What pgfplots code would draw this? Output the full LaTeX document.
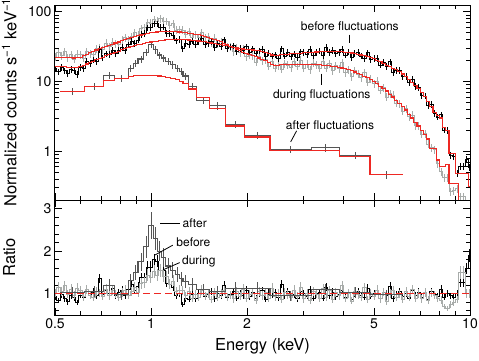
\documentclass[border=0pt]{standalone}
\usepackage{fontspec}
\setmainfont{TeX Gyre Heros}
\usepackage{pgfplots}
\usepackage{pgfplotstable}
\pgfplotsset{compat=1.18}

\definecolor{lgray}{RGB}{168,172,170}
\definecolor{dgray}{RGB}{85,85,85}
\definecolor{mred}{RGB}{238,40,35}

% E, before model, before ratio, during model, during ratio
\pgfplotstableread{
E mb rb md rd
0.500 16.4 0.93 22.4 1.02
0.512 16.4 0.84 22.4 1.16
0.524 16.3 0.98 22.4 1.05
0.536 16.2 0.88 22.4 1.19
0.548 16.0 0.81 22.2 0.99
0.561 15.8 0.95 21.9 1.11
0.574 15.8 0.91 21.7 0.97
0.587 16.0 0.79 21.8 1.13
0.601 16.4 0.97 22.4 1.08
0.615 17.0 0.91 23.4 0.93
0.629 17.8 1.10 24.5 1.10
0.644 18.8 0.97 25.7 0.97
0.659 19.6 1.04 27.0 0.91
0.675 20.4 0.95 28.3 1.05
0.690 21.4 1.35 29.5 1.02
0.706 22.4 0.98 30.7 0.94
0.723 23.3 1.07 32.0 1.11
0.740 24.2 1.02 33.1 0.96
0.757 25.2 1.12 34.3 1.07
0.774 26.2 0.96 35.6 0.99
0.792 27.3 1.03 36.9 0.92
0.811 28.4 1.09 38.2 1.03
0.830 29.5 0.95 39.5 1.09
0.849 30.5 1.10 40.9 0.97
0.869 31.5 1.21 42.3 1.05
0.889 32.5 1.08 43.7 1.15
0.910 33.5 1.18 45.1 1.03
0.931 34.4 1.38 46.4 1.24
0.953 35.3 1.38 47.6 1.26
0.975 36.1 1.63 48.7 1.44
0.998 36.8 1.63 49.7 1.38
1.021 37.4 1.80 50.6 1.53
1.045 38.0 1.77 51.3 1.43
1.069 38.6 1.55 51.8 1.55
1.094 39.1 1.55 52.1 1.41
1.119 39.5 1.25 52.2 1.40
1.145 39.8 1.23 52.2 1.23
1.172 40.0 1.16 52.0 1.30
1.199 40.0 0.96 51.7 1.06
1.227 40.0 1.01 51.3 1.09
1.256 39.9 0.74 50.8 1.08
1.285 39.7 0.88 50.2 0.95
1.315 39.4 0.87 49.5 1.05
1.346 39.0 0.98 48.7 0.89
1.377 38.6 0.88 47.8 0.98
1.409 38.1 1.00 46.8 0.92
1.442 37.6 1.11 45.8 1.09
1.476 37.0 0.93 44.6 0.95
1.510 36.3 0.98 43.3 1.01
1.545 35.6 1.06 41.9 0.87
1.581 35.0 0.88 40.4 1.04
1.618 34.3 1.02 38.8 0.91
1.656 33.6 0.95 37.2 1.00
1.694 33.0 1.20 35.5 1.08
1.734 32.4 0.92 33.8 0.93
1.774 31.8 0.99 32.0 0.97
1.815 31.0 1.05 30.4 0.88
1.858 30.2 0.89 28.9 1.05
1.901 29.5 1.01 27.5 0.94
1.945 29.2 0.96 26.3 1.11
1.991 28.9 1.09 25.2 0.90
2.037 28.6 0.93 24.2 0.99
2.084 28.3 1.04 23.3 1.02
2.133 28.0 0.90 22.5 0.85
2.183 27.6 1.00 21.7 1.06
2.233 27.0 1.07 20.8 0.96
2.285 26.2 0.87 19.9 1.03
2.339 25.2 1.02 18.8 0.89
2.393 24.0 0.97 17.4 1.13
2.449 23.5 1.03 16.8 0.93
2.506 23.8 0.91 17.0 1.00
2.564 24.2 1.22 17.3 0.87
2.624 24.5 0.95 17.4 1.04
2.685 24.7 1.06 17.5 0.98
2.748 24.9 0.92 17.5 0.91
2.812 25.1 0.99 17.6 1.09
2.877 25.3 0.88 17.6 0.94
2.944 25.5 1.05 17.6 1.16
3.013 25.7 1.01 17.6 0.88
3.083 25.9 0.94 17.6 1.01
3.155 26.1 1.10 17.5 0.84
3.228 26.3 0.90 17.5 1.05
3.303 26.5 1.00 17.4 0.99
3.380 26.7 1.03 17.3 0.90
3.459 26.8 0.89 17.2 1.12
3.540 26.9 1.16 17.0 0.92
3.622 27.0 0.96 16.8 1.07
3.707 27.0 1.04 16.6 0.86
3.793 27.0 0.93 16.3 1.03
3.881 26.9 0.98 16.0 0.95
3.972 26.7 1.08 15.6 1.19
4.064 26.4 0.91 15.2 0.89
4.159 26.0 1.02 14.7 1.00
4.256 25.6 0.86 14.2 0.83
4.355 25.2 1.01 13.7 1.06
4.456 24.6 1.06 13.1 0.98
4.560 24.0 0.97 12.5 0.91
4.666 23.4 0.92 11.9 1.14
4.775 22.8 1.13 11.3 0.87
4.886 22.2 0.94 10.7 1.02
5.000 21.3 1.00 10.0 0.94
5.117 20.3 1.07 9.3 1.09
5.236 19.2 0.90 8.6 0.88
5.358 18.2 1.03 7.9 1.04
5.483 17.2 0.95 7.3 0.82
5.610 16.3 1.18 6.6 1.01
5.741 15.5 0.88 6.0 1.07
5.875 14.7 0.99 5.4 0.91
6.012 13.9 1.05 4.9 0.99
6.152 12.8 0.93 4.4 0.86
6.295 11.8 1.01 3.9 1.05
6.442 10.8 0.89 3.4 0.93
6.592 9.8 1.09 3.0 1.10
6.745 8.8 0.96 2.6 0.90
6.902 7.9 1.04 2.3 1.00
7.063 7.0 0.91 2.0 0.88
7.228 6.1 1.02 1.75 1.03
7.396 5.2 0.87 1.5 0.85
7.568 4.4 1.06 1.1 1.02
7.744 3.6 0.98 1.1 0.97
7.925 3.3 0.94 0.75 0.89
8.109 3.0 1.11 0.6 0.85
8.298 2.2 0.92 0.6 0.70
8.492 2.0 1.00 0.65 0.65
8.690 0.93 0.95 0.35 0.75
8.892 0.93 0.92 0.34 0.80
9.099 0.48 1.00 0.34 0.86
9.311 0.48 1.26 0.15 1.50
9.528 0.48 1.26 0.15 1.50
9.750 0.48 1.60 0.15 1.00
9.977 0.31 1.90 0.15 1.00
}\spectab

% after fluctuations: bin left edge, bin centre, data, model, ratio
\pgfplotstableread{
lo xc v m r
0.52 0.568 7.2 7.1 1.03
0.62 0.664 8.5 8.4 1.05
0.71 0.739 12.3 10.3 1.20
0.77 0.809 11.0 11.2 0.98
0.85 0.865 15.5 11.9 1.30
0.88 0.895 18.3 12.2 1.50
0.91 0.930 21.0 12.3 1.75
0.95 0.965 26.0 12.3 2.10
0.98 1.000 34.0 12.3 2.60
1.02 1.035 28.5 12.2 2.30
1.05 1.065 24.0 12.0 2.00
1.08 1.095 21.7 11.8 1.85
1.11 1.130 19.3 11.5 1.65
1.15 1.170 17.3 11.1 1.55
1.19 1.210 15.5 10.6 1.45
1.23 1.245 13.9 10.1 1.35
1.26 1.285 12.0 9.5 1.28
1.31 1.349 8.6 7.8 1.22
1.39 1.458 5.4 5.9 1.10
1.53 1.618 4.5 4.1 1.05
1.71 1.835 2.45 2.3 1.13
1.97 2.156 1.70 1.6 1.13
2.36 2.744 1.06 1.03 0.95
3.19 3.532 1.12 1.03 1.09
3.91 4.359 0.875 0.83 1.03
4.86 5.480 0.46 0.46 0.98
6.18 nan 0.46 0.46 0.98
}\aftertab

\pgfplotsset{
  /pgfplots/myaxis/.style={
    scale only axis, width=415pt,
    xmin=0.5, xmax=10,
    xtick={0.5,1,2,5,10},
    minor xtick={0.6,0.7,0.8,0.9,3,4,6,7,8,9},
    major tick length=7pt, minor tick length=4pt,
    tick style={line width=0.8pt, black},
    axis line style={line width=1pt},
    tick label style={font=\fontsize{14}{16}\selectfont},
    label style={font=\fontsize{16.5}{19}\selectfont},
    ylabel style={at={(axis description cs:-0.11,0.5)}, anchor=center},
    xlabel style={at={(axis description cs:0.5,-0.27)}, anchor=center},
  },
  /pgfplots/mydat/.style={const plot mark mid, line width=0.7pt, mark=none,
    error bars/y dir=both, error bars/y fixed relative=#1,
    error bars/error mark=none,
    error bars/error bar style={line width=0.7pt}},
  /pgfplots/mymdl/.style={mred, line width=1.1pt, const plot mark mid},
  /pgfplots/myaft/.style={dgray, line width=1.1pt, const plot},
  /pgfplots/mycross/.style={draw=none, mark=none,
    error bars/y dir=both, error bars/y fixed relative=0.12,
    error bars/error mark=none,
    error bars/error bar style={draw=dgray, line width=0.9pt}},
}

\begin{document}
\begin{tikzpicture}
% upper panel: data
\begin{axis}[xmode=log, ymode=log, myaxis, at={(0,0)}, anchor=south west, height=195pt,
  ymin=0.2, ymax=125,
  ytick={1,10,100}, yticklabels={1,10,100},
  minor ytick={0.2,0.3,0.4,0.5,0.6,0.7,0.8,0.9,2,3,4,5,6,7,8,9,20,30,40,50,60,70,80,90},
  xticklabels={},
  ylabel={Normalized counts s\textsuperscript{−1} keV\textsuperscript{−1}}]
\addplot[lgray, mydat=0.13] table[x=E, y expr=\thisrow{md}*\thisrow{rd}] {\spectab};
\addplot[black, mydat=0.11] table[x=E, y expr=\thisrow{mb}*\thisrow{rb}] {\spectab};
\addplot[myaft] table[x=lo, y=v] {\aftertab};
\addplot[mycross] table[x=xc, y=v] {\aftertab};
\node[font=\fontsize{12}{14}\selectfont] at (axis cs:4.2,63) {before fluctuations};
\draw[line width=0.8pt] (axis cs:4.2,47) -- (axis cs:4.2,35.6);
\node[font=\fontsize{12}{14}\selectfont] at (axis cs:3.43,6.4) {during fluctuations};
\draw[line width=0.8pt] (axis cs:3.43,13) -- (axis cs:3.43,9);
\node[font=\fontsize{12}{14}\selectfont] at (axis cs:3.64,2.37) {after fluctuations};
\draw[line width=0.8pt] (axis cs:2.86,1.96) -- (axis cs:2.74,1.36);
\end{axis}
% upper panel: models on top of the error bars
\begin{axis}[xmode=log, ymode=log, myaxis, hide axis, at={(0,0)}, anchor=south west,
  height=195pt, ymin=0.2, ymax=125]
\addplot[mymdl] table[x=E, y=md] {\spectab};
\addplot[mymdl] table[x=E, y=mb] {\spectab};
\addplot[mred, line width=1.1pt, const plot] table[x=lo, y=m] {\aftertab};
\end{axis}

% lower panel: ratios
\begin{axis}[xmode=log, myaxis, at={(0,0)}, anchor=north west, height=115pt,
  ymin=0.5, ymax=3.2,
  ytick={1,2,3}, yticklabels={1,2,3},
  minor ytick={0.6,0.8,1.2,1.4,1.6,1.8,2.2,2.4,2.6,2.8},
  xticklabels={0.5,1,2,5,10},
  xlabel={Energy (keV)}, ylabel={Ratio}]
\addplot[black, mydat=0.08] table[x=E, y=rb] {\spectab};
\addplot[lgray, mydat=0.10] table[x=E, y=rd] {\spectab};
\addplot[myaft] table[x=lo, y=r] {\aftertab};
\addplot[mycross] table[x=xc, y=r] {\aftertab};
\node[font=\fontsize{12}{14}\selectfont, anchor=west, inner sep=0pt] at (axis cs:1.255,2.65) {after};
\draw[line width=0.8pt] (axis cs:1.07,2.65) -- (axis cs:1.23,2.65);
\node[font=\fontsize{12}{14}\selectfont, anchor=west, inner sep=0pt] at (axis cs:1.20,2.2) {before};
\draw[line width=0.8pt] (axis cs:1.03,1.91) -- (axis cs:1.17,2.14);
\node[font=\fontsize{12}{14}\selectfont, anchor=west, inner sep=0pt] at (axis cs:1.25,1.755) {during};
\draw[line width=0.8pt] (axis cs:1.09,1.56) -- (axis cs:1.23,1.73);
\end{axis}
% lower panel: unity line on top
\begin{axis}[xmode=log, myaxis, hide axis, at={(0,0)}, anchor=north west,
  height=115pt, ymin=0.5, ymax=3.2]
\addplot[color=mred, line width=1.5pt, dash pattern=on 7pt off 4pt, mark=none]
  coordinates {(0.5,1) (10,1)};
\end{axis}
\pgfresetboundingbox
\path (-55pt,-160pt) rectangle (424pt,200pt);
\end{tikzpicture}
\end{document}
